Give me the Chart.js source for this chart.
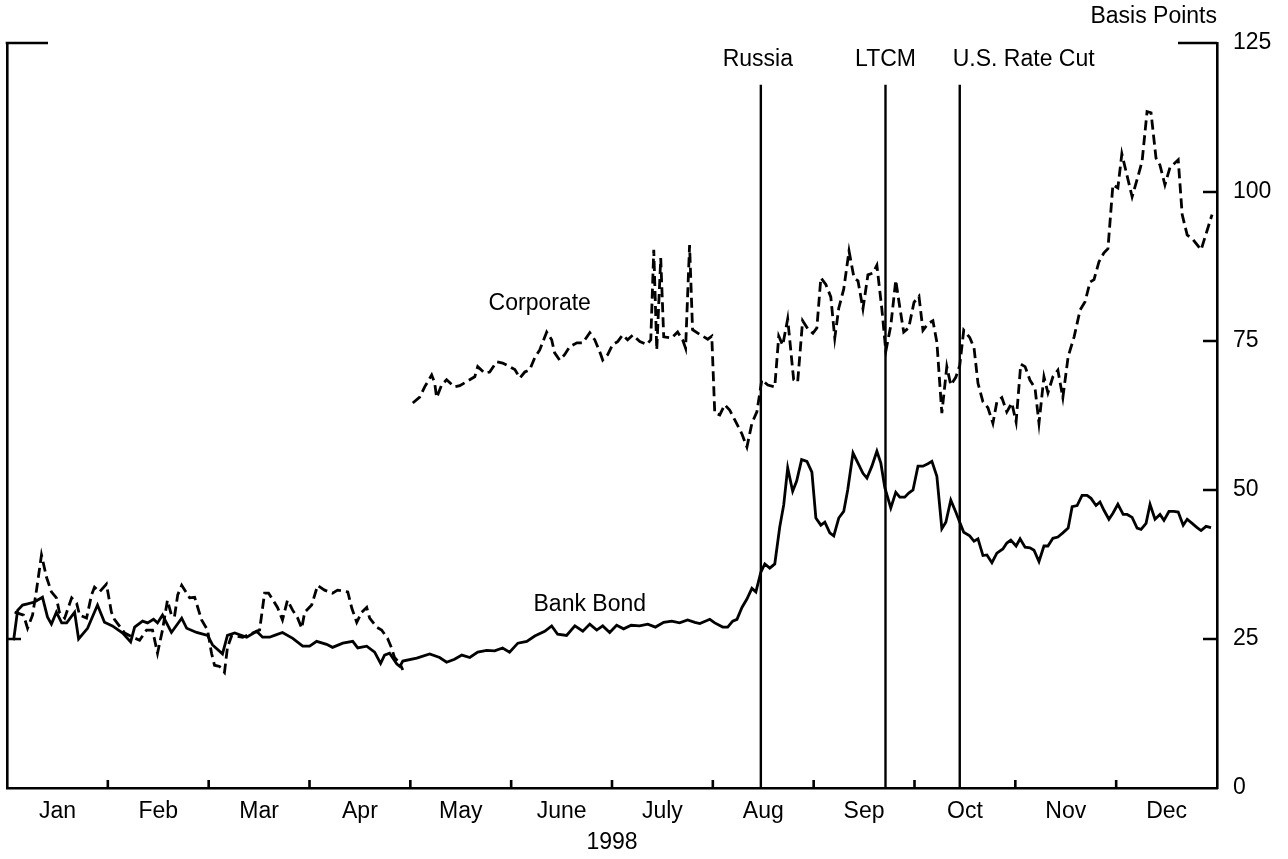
<!DOCTYPE html>
<html>
<head>
<meta charset="utf-8">
<title>Bank bond and corporate spreads, 1998</title>
<script src="https://cdn.jsdelivr.net/npm/chart.js@4.4.0/dist/chart.umd.min.js"></script>
<style>
  html, body { margin: 0; padding: 0; background: #fff; }
  #wrap { width: 1288px; height: 859px; position: relative; }
</style>
</head>
<body>
<div id="wrap"><canvas id="c" width="1288" height="859"></canvas></div>
<script>
// Horizontal axis: one year split into twelve equal months (0..365)
const YEAR_SPAN = 365;
const months = ['Jan', 'Feb', 'Mar', 'Apr', 'May', 'June', 'July', 'Aug', 'Sep', 'Oct', 'Nov', 'Dec'];
const yearLabel = '1998';
const valueTicks = [0, 25, 50, 75, 100, 125];
const unitLabel = 'Basis Points';

// Market events marked with vertical rules
const eventNames = ['Russia', 'LTCM', 'U.S. Rate Cut'];
const eventDays = [227.4, 265.0, 287.4];

// Bank bond spread: [day, basis points]
const bankBond = [
  [2,24.8],[3.2,29.8],[4.7,30.7],[6.2,30.9],[8.3,31.2],[10.7,32.0],[12.2,28.7],[13.4,27.5],[14.9,29.5],[16.5,27.7],
  [18,27.7],[20.4,29.5],[21.6,25.0],[24.3,26.8],[27.3,30.7],[29.4,27.8],[31.8,27.2],[34.9,26.0],[37.3,24.5],[38.5,27.0],
  [40.9,28.0],[42.4,27.7],[44.2,28.3],[45.4,27.7],[46.9,29.0],[49.6,26.1],[52.7,28.5],[54.2,26.8],[57.2,26.1],[60.5,25.6],
  [62,24.0],[65,22.5],[66.5,25.6],[68.7,26.0],[72.3,25.3],[75.3,26.3],[77.1,25.3],[79.2,25.3],[80.7,25.6],[83.1,26.1],
  [86.2,25.1],[89.2,23.8],[91.3,23.8],[93.4,24.6],[96.4,24.1],[98.2,23.6],[101.3,24.3],[104.3,24.6],[105.8,23.5],[108.5,23.8],
  [110.9,22.8],[112.7,20.9],[113.9,22.3],[115.4,22.6],[117.6,20.8],[118.5,20.4],[119.4,21.3],[123.6,21.8],[127.5,22.5],
  [130.5,21.9],[132.6,21.1],[135,21.6],[137.2,22.3],[139.6,21.9],[142,22.8],[144.7,23.1],[147.1,23.0],[149.5,23.5],[151.6,22.8],
  [154.1,24.3],[156.8,24.6],[159.2,25.5],[162.2,26.3],[164.3,27.2],[166.1,25.8],[168.8,25.6],[171.3,27.2],[173.7,26.3],[175.8,27.5],
  [177.9,26.5],[179.7,27.2],[181.8,26.1],[183.9,27.3],[186,26.7],[188.3,27.3],[190.8,27.2],[193.3,27.5],[195.6,27.0],[198.1,27.8],
  [200.5,28.0],[202.9,27.7],[205.3,28.2],[207.5,27.8],[209,27.6],[212,28.3],[213.5,27.7],[215.9,27.0],[217.4,27.0],[218.9,28.0],
  [220.2,28.3],[221.7,30.3],[223.2,31.7],[224.7,33.5],[225.9,32.9],[227.4,36.2],[228.6,37.6],[230.1,36.9],[231.6,37.6],[233.1,43.8],
  [234.3,47.5],[235.5,53.7],[237,49.8],[238.2,51.5],[239.7,55.1],[241.3,54.8],[242.8,53.0],[244,45.3],[245.5,44.1],[246.7,44.6],
  [248.2,42.8],[249.4,42.3],[250.9,45.3],[252.4,46.4],[253.6,50.0],[255.2,56.2],[256.7,54.5],[258.2,52.8],[259.4,52.0],[260.9,54.0],
  [262.4,56.5],[263.6,54.5],[264.8,50.4],[266.6,47.0],[268.1,49.6],[269.3,48.8],[270.8,48.8],[272,49.5],[273.3,50.0],[274.8,54.0],
  [276.3,54.0],[277.8,54.4],[279,54.8],[280.5,52.3],[282,43.5],[283.2,44.6],[284.7,48.3],[286.2,46.3],[287.4,44.6],[288.6,42.9],
  [290.4,42.3],[291.7,41.4],[292.9,41.8],[294.4,39.0],[295.6,39.1],[297.1,37.8],[298.6,39.4],[300.4,40.1],[301.6,41.1],[302.8,41.6],
  [304.4,40.6],[305.6,41.8],[307.1,40.4],[308.6,40.3],[309.8,39.9],[311.3,38.0],[312.8,40.6],[314,40.6],[315.5,41.9],[317,42.1],
  [318.5,42.8],[320.1,43.6],[321.3,47.2],[322.8,47.4],[324.3,49.1],[325.8,49.1],[327,48.6],[328.5,47.4],[329.7,48.0],[330.9,46.6],
  [332.4,45.1],[333.6,46.1],[335.1,47.6],[336.7,45.9],[337.9,45.9],[339.4,45.4],[340.9,43.6],[342.1,43.4],[343.6,44.4],[344.8,47.6],
  [346.3,45.1],[347.8,45.9],[349,44.9],[350.5,46.4],[352,46.4],[353.3,46.3],[354.8,44.1],[356,45.1],[357.5,44.4],[359,43.7],
  [360.2,43.2],[361.7,43.9],[363.2,43.7]
];

// Corporate spread, January to April: [day, basis points]
const corporateEarly = [
  [2.3,29.5],[5,29.0],[6.2,26.8],[7.7,29.0],[8.9,33.2],[10.4,39.1],[11.9,35.4],[13.4,32.9],[14.9,31.9],[15.8,29.5],
  [17.4,28.5],[19.5,31.9],[21,31.0],[21.9,29.0],[24,28.5],[25.5,32.4],[26.4,33.7],[27.9,32.9],[30,34.2],[31.5,29.5],
  [32.4,28.3],[35.5,26.0],[37.9,25.3],[40,24.8],[42.1,26.5],[43.9,26.5],[45.4,22.6],[46.9,26.5],[48.4,31.5],[49.6,29.0],
  [50.5,28.7],[51.5,32.4],[52.7,34.0],[55.1,31.9],[56.6,32.0],[58.7,28.2],[60.5,26.5],[61.7,22.6],[62.6,20.6],[64.1,20.4],
  [65.6,19.4],[66.5,23.6],[67.8,25.6],[71.1,25.3],[74.1,26.0],[76.2,26.5],[77.7,32.7],[78.9,32.7],[81.6,30.3],[83.1,28.2],
  [84.6,31.5],[86.2,29.8],[87.7,28.5],[88.9,26.8],[89.8,29.5],[91.9,30.7],[93.7,34.0],[95.8,33.2],[98.2,32.7],[99.7,33.2],
  [102.8,32.9],[104,30.2],[105.5,27.8],[107,29.5],[108.5,30.3],[109.4,28.5],[111.5,27.0],[113,26.5],[114.8,25.1],[116,23.5],
  [116.9,21.9],[118.5,20.9],[119.4,19.8]
];

// Corporate spread, May to December: [day, basis points]
const corporateLate = [
  [122.4,64.6],[124.5,65.6],[126,67.3],[128.1,69.3],[129,68.0],[129.6,65.5],[131.1,67.6],[132.6,68.5],[135,67.3],[136.6,67.5],
  [138.7,68.2],[141.1,69.0],[142,70.7],[144.1,69.6],[145.6,69.8],[147.7,71.5],[149.5,71.3],[151.6,70.7],[153.2,70.2],[154.7,68.8],
  [156.2,69.8],[157.7,70.2],[159.2,72.2],[160.7,73.5],[162.8,76.5],[164.3,75.2],[165.2,73.0],[166.7,71.8],[168.2,72.7],[169.7,74.0],
  [171.9,74.7],[173.7,74.7],[175.8,76.4],[177.3,75.2],[178.8,73.2],[179.7,71.8],[181.2,72.7],[182.7,74.4],[184.2,74.9],[185.7,76.0],
  [187.2,75.2],[188.8,76.0],[190.9,74.9],[193,74.4],[194.2,75.2],[195.1,90.3],[196,73.5],[197.2,88.9],[198.1,75.7],[200.5,75.5],
  [202.3,76.5],[203.8,75.2],[204.7,73.8],[205.9,91.1],[206.8,76.9],[209,76.1],[211.4,75.3],[212.6,75.8],[213.5,62.9],[215,62.6],
  [216.5,64.3],[218,63.4],[219.5,61.8],[221.7,59.4],[223.2,57.2],[224.7,61.2],[226.2,63.1],[227.7,68.5],[229.5,67.6],[231.6,67.3],
  [232.8,75.8],[234,74.3],[235.5,78.7],[237.3,68.5],[238.5,68.1],[240,78.4],[241.6,77.0],[243.1,76.3],[244.3,77.2],[245.5,85.6],
  [247,84.5],[248.5,82.4],[249.7,75.5],[250.9,80.5],[252.4,83.7],[254,90.1],[255.5,85.6],[256.7,85.1],[258.2,80.4],[259.7,86.1],
  [261.2,86.4],[262.4,87.7],[263.9,80.4],[265.1,73.3],[266.6,77.6],[268.1,85.2],[269.3,80.7],[270.5,76.5],[272,77.2],[273.6,81.5],
  [275.1,82.5],[276.3,76.8],[277.8,77.9],[279.3,78.4],[280.5,74.8],[282,62.9],[283.5,70.7],[284.7,67.6],[286.2,68.9],[287.4,70.9],
  [288.6,76.8],[290.4,75.6],[291.7,73.9],[292.9,67.9],[294.4,64.8],[295.9,63.8],[297.4,61.2],[298.6,64.8],[300.1,65.5],[301.6,63.1],
  [303.1,64.6],[304.4,61.4],[305.8,71.1],[307.1,70.7],[308.6,68.4],[310.1,67.1],[311.3,61.2],[312.8,69.0],[314,66.3],[315.5,69.0],
  [317,70.1],[318.5,65.5],[320.1,72.4],[321.9,75.7],[323.7,80.2],[325.2,81.6],[326.7,84.9],[327.9,85.3],[329.4,88.3],[330.9,89.8],
  [332.1,90.5],[333.6,101.2],[335.1,100.7],[336.3,106.4],[337.8,102.9],[339.4,99.2],[340.9,102.1],[342.4,105.1],[343.9,113.5],[345.1,113.3],
  [346.6,105.7],[347.8,104.5],[349.3,101.2],[350.8,104.1],[353.3,105.4],[354.5,96.2],[356,92.8],[357.8,92.0],[360.2,90.3],[363.5,96.2]
];

const FONT = "'Liberation Sans', Arial, Helvetica, sans-serif";
const FONT_SIZE = 23;
const LINE_WIDTH = 2.8;

const toPoints = rows => rows.map(([x, y]) => ({ x, y }));
// The two corporate stretches are joined with a null so the line breaks in between.
const corporatePoints = toPoints(corporateEarly)
  .concat([{ x: (corporateEarly[corporateEarly.length - 1][0] + corporateLate[0][0]) / 2, y: null }])
  .concat(toPoints(corporateLate));

const paperBackground = {
  id: 'paperBackground',
  beforeDraw(chart) {
    const { ctx, width, height } = chart;
    ctx.save();
    ctx.fillStyle = '#fff';
    ctx.fillRect(0, 0, width, height);
    ctx.restore();
  }
};

// Inward tick marks, event rules and the text placed on the plot
const annotations = {
  id: 'annotations',
  afterDatasetsDraw(chart) {
    const { ctx, chartArea: a, scales } = chart;
    const x = scales.x, y = scales.y;
    ctx.save();
    ctx.strokeStyle = '#000';
    ctx.fillStyle = '#000';
    ctx.lineWidth = 2.6;
    ctx.lineCap = 'butt';

    ctx.beginPath();
    for (let k = 1; k < months.length; k++) {
      const px = x.getPixelForValue(k * YEAR_SPAN / months.length);
      ctx.moveTo(px, a.bottom);
      ctx.lineTo(px, a.bottom - 8);
    }
    valueTicks.forEach(v => {
      if (v === 0) return;
      const py = y.getPixelForValue(v);
      const len = v === 125 ? 39 : 14;
      ctx.moveTo(a.right, py);
      ctx.lineTo(a.right - len, py);
    });
    const topY = y.getPixelForValue(125);
    ctx.moveTo(a.left - 1.3, topY);
    ctx.lineTo(a.left + 41, topY);
    const lowY = y.getPixelForValue(25);
    ctx.moveTo(a.left, lowY);
    ctx.lineTo(a.left + 14, lowY);
    ctx.stroke();

    ctx.font = FONT_SIZE + 'px ' + FONT;
    ctx.textBaseline = 'middle';
    const labelAlign = ['center', 'center', 'left'];
    const labelShift = [-3, 0, -7];
    ctx.lineWidth = 2.4;
    eventDays.forEach((d, i) => {
      const px = x.getPixelForValue(d);
      ctx.beginPath();
      ctx.moveTo(px, a.bottom);
      ctx.lineTo(px, y.getPixelForValue(118));
      ctx.stroke();
      ctx.textAlign = labelAlign[i];
      ctx.fillText(eventNames[i], px + labelShift[i], a.top + 17);
    });

    ctx.textAlign = 'center';
    ctx.fillText('Corporate', x.getPixelForValue(160.7), y.getPixelForValue(81.3));
    ctx.fillText('Bank Bond', x.getPixelForValue(175.8), y.getPixelForValue(30.8));

    ctx.textAlign = 'right';
    ctx.fillText(unitLabel, a.right, 17);

    ctx.textAlign = 'center';
    ctx.fillText(yearLabel, (a.left + a.right) / 2, 843);
    ctx.restore();
  }
};

new Chart(document.getElementById('c'), {
  type: 'line',
  data: {
    datasets: [
      {
        label: 'Bank Bond',
        data: toPoints(bankBond),
        borderColor: '#000',
        borderWidth: LINE_WIDTH,
        pointRadius: 0,
        tension: 0,
        fill: false
      },
      {
        label: 'Corporate',
        data: corporatePoints,
        borderColor: '#000',
        borderWidth: LINE_WIDTH,
        borderDash: [10, 5],
        pointRadius: 0,
        tension: 0,
        spanGaps: false,
        fill: false
      }
    ]
  },
  options: {
    responsive: false,
    animation: false,
    devicePixelRatio: 1,
    layout: { padding: { top: 43, left: 7, right: 0, bottom: 0 } },
    plugins: { legend: { display: false }, tooltip: { enabled: false } },
    scales: {
      x: {
        type: 'linear',
        position: 'bottom',
        min: 0,
        max: YEAR_SPAN,
        grid: { display: false, drawTicks: false },
        border: { display: true, color: '#000', width: 2.6 },
        afterBuildTicks(scale) {
          scale.ticks = months.map((m, i) => ({ value: (i + 0.5) * YEAR_SPAN / months.length }));
        },
        afterFit(scale) { scale.height = 71; },
        ticks: {
          autoSkip: false,
          maxRotation: 0,
          padding: 10,
          color: '#000',
          font: { family: FONT, size: FONT_SIZE },
          callback: (v, i) => months[i]
        }
      },
      y: {
        type: 'linear',
        position: 'right',
        min: 0,
        max: 125,
        grid: { display: false, drawTicks: false },
        border: { display: true, color: '#000', width: 2.6 },
        afterBuildTicks(scale) {
          scale.ticks = valueTicks.map(v => ({ value: v }));
        },
        afterFit(scale) { scale.width = 71; },
        ticks: {
          padding: 16,
          color: '#000',
          font: { family: FONT, size: FONT_SIZE }
        }
      },
      yLeft: {
        type: 'linear',
        position: 'left',
        min: 0,
        max: 125,
        grid: { display: false, drawTicks: false },
        border: { display: true, color: '#000', width: 2.6 },
        afterFit(scale) { scale.width = 0; },
        ticks: { display: false }
      }
    }
  },
  plugins: [paperBackground, annotations]
});
</script>
</body>
</html>
